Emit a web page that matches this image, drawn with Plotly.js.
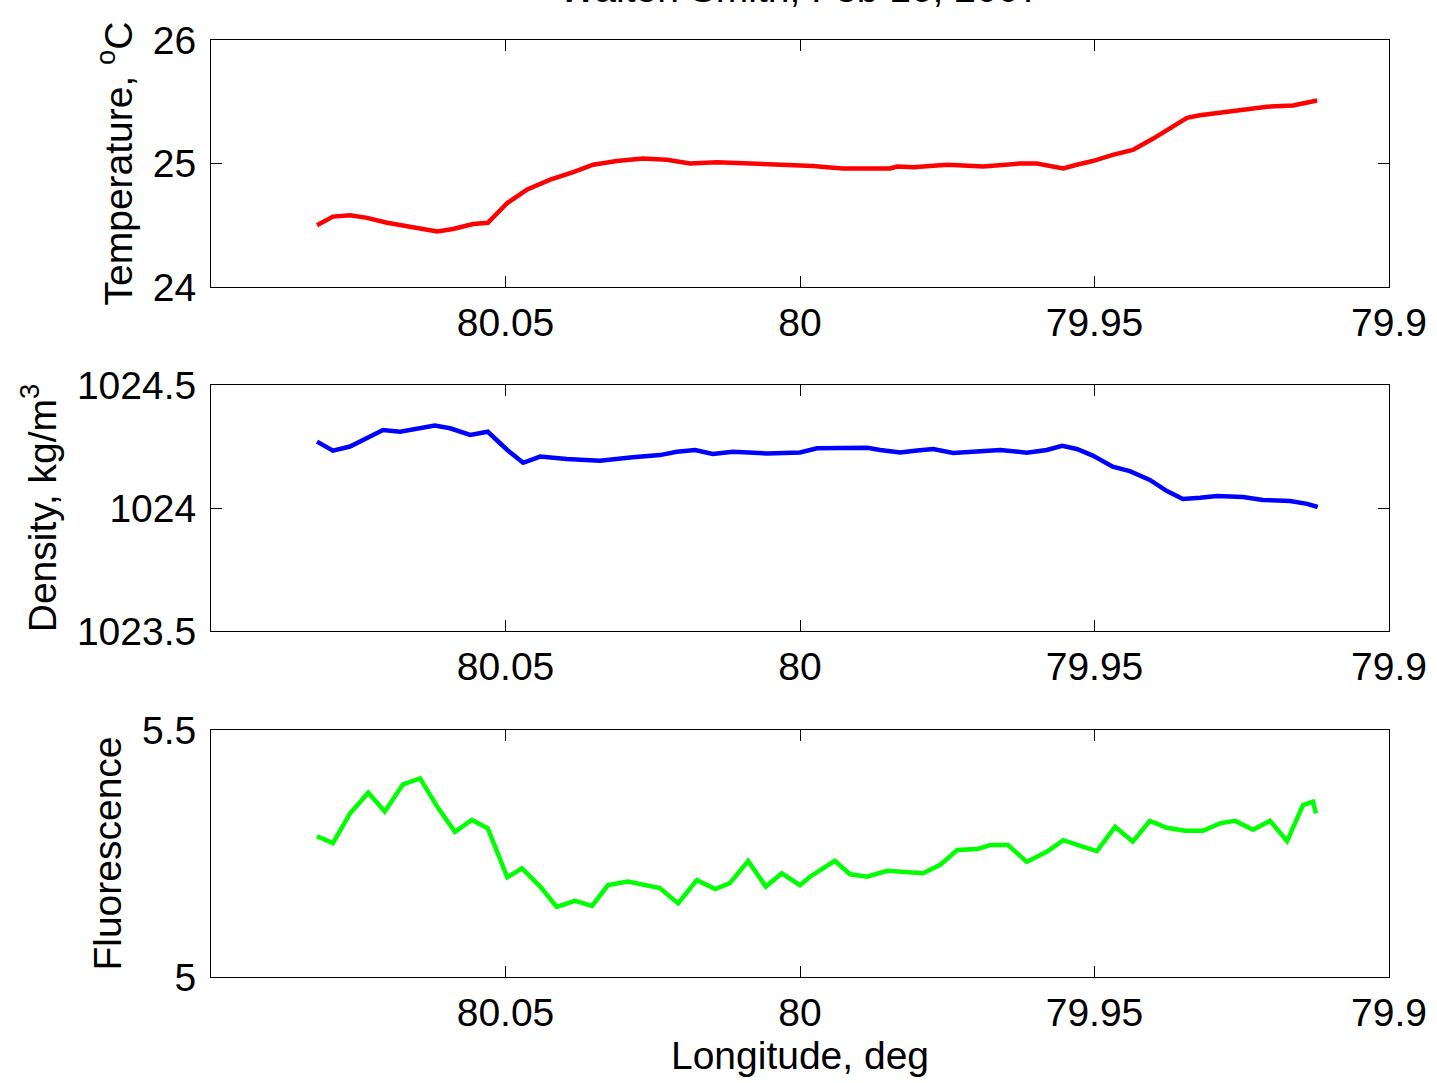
<!DOCTYPE html>
<html>
<head>
<meta charset="utf-8">
<script src="https://cdn.plot.ly/plotly-3.0.1.min.js"></script>
<style>html,body{margin:0;padding:0;background:#fff;}#chart{width:1437px;height:1083px;}</style>
</head>
<body>
<div id="chart"></div>
<script>
// Temperature, degC
const tempLon = [80.0820,80.0793,80.0764,80.0735,80.0701,80.0674,80.0645,80.0616,80.0589,80.0555,80.0530,80.0497,80.0463,80.0424,80.0385,80.0351,80.0311,80.0267,80.0226,80.0187,80.0141,80.0085,80.0000,79.9978,79.9954,79.9927,79.9847,79.9835,79.9808,79.9750,79.9689,79.9660,79.9626,79.9598,79.9576,79.9553,79.9530,79.9503,79.9469,79.9435,79.9401,79.9372,79.9343,79.9321,79.9275,79.9207,79.9163,79.9139,79.9122];
const tempVal = [24.50,24.57,24.58,24.56,24.52,24.50,24.47,24.45,24.47,24.51,24.52,24.68,24.79,24.87,24.93,24.99,25.02,25.04,25.03,25.00,25.01,25.00,24.99,24.98,24.97,24.96,24.96,24.975,24.97,24.99,24.975,24.99,25.00,25.00,24.98,24.96,24.99,25.02,25.07,25.11,25.20,25.28,25.37,25.39,25.42,25.46,25.47,25.49,25.51];

// Density, kg/m^3
const densLon = [80.0820,80.0793,80.0764,80.0735,80.0708,80.0679,80.0650,80.0620,80.0594,80.0560,80.0530,80.0497,80.0470,80.0441,80.0396,80.0340,80.0284,80.0238,80.0209,80.0178,80.0148,80.0114,80.0056,80.0000,79.9971,79.9927,79.9886,79.9864,79.9830,79.9801,79.9774,79.9740,79.9694,79.9660,79.9615,79.9581,79.9555,79.9530,79.9503,79.9469,79.9440,79.9406,79.9377,79.9350,79.9321,79.9292,79.9248,79.9214,79.9168,79.9139,79.9121];
const densVal = [1024.270,1024.233,1024.250,1024.283,1024.317,1024.310,1024.324,1024.335,1024.324,1024.297,1024.310,1024.236,1024.184,1024.209,1024.199,1024.192,1024.206,1024.215,1024.229,1024.236,1024.220,1024.229,1024.222,1024.226,1024.243,1024.243,1024.245,1024.236,1024.226,1024.234,1024.240,1024.224,1024.229,1024.236,1024.225,1024.236,1024.253,1024.240,1024.213,1024.168,1024.150,1024.114,1024.069,1024.037,1024.042,1024.049,1024.045,1024.033,1024.028,1024.017,1024.004];

// Fluorescence
const fluoLon = [80.0820,80.0793,80.0764,80.0733,80.0705,80.0674,80.0645,80.0616,80.0586,80.0557,80.0530,80.0497,80.0472,80.0441,80.0413,80.0382,80.0353,80.0326,80.0292,80.0238,80.0207,80.0175,80.0144,80.0119,80.0088,80.0058,80.0031,80.0000,79.9983,79.9966,79.9941,79.9915,79.9886,79.9852,79.9791,79.9762,79.9733,79.9699,79.9677,79.9647,79.9615,79.9579,79.9553,79.9520,79.9496,79.9465,79.9435,79.9406,79.9377,79.9346,79.9316,79.9287,79.9261,79.9231,79.9202,79.9173,79.9146,79.9129,79.9124];
const fluoVal = [5.285,5.271,5.331,5.373,5.335,5.390,5.402,5.345,5.294,5.318,5.301,5.202,5.220,5.183,5.142,5.154,5.144,5.186,5.193,5.180,5.149,5.196,5.178,5.190,5.235,5.183,5.210,5.186,5.203,5.217,5.235,5.208,5.203,5.215,5.210,5.227,5.257,5.259,5.267,5.267,5.233,5.255,5.277,5.264,5.255,5.304,5.274,5.316,5.302,5.296,5.296,5.311,5.316,5.298,5.316,5.275,5.348,5.355,5.331];

const xTickVals = [80.05, 80, 79.95, 79.9];
const xTickText = ['80.05', '80', '79.95', '79.9'];
const tempTicks = [24, 25, 26];
const densTicks = [1023.5, 1024, 1024.5];
const densTickText = ['1023.5', '1024', '1024.5'];
const fluoTicks = [5, 5.5];
const fluoTickText = ['5', '5.5'];

const FONT = 'Liberation Sans, Arial, Helvetica, sans-serif';
const FS = 39;
const traces = [
  {x: tempLon, y: tempVal, xaxis: 'x', yaxis: 'y', mode: 'lines', line: {color: '#ff0000', width: 4.5}, showlegend: false},
  {x: densLon, y: densVal, xaxis: 'x2', yaxis: 'y2', mode: 'lines', line: {color: '#0000ff', width: 4.5}, showlegend: false},
  {x: fluoLon, y: fluoVal, xaxis: 'x3', yaxis: 'y3', mode: 'lines', line: {color: '#00ff00', width: 4.5}, showlegend: false}
];

function xa(anchor, title) {
  const a = {
    anchor: anchor, domain: [0, 1], range: [80.1, 79.9], autorange: false,
    tickmode: 'array', tickvals: xTickVals, ticktext: xTickText,
    ticks: 'inside', ticklen: 11, tickwidth: 1, tickcolor: '#000',
    showline: true, linecolor: '#000', linewidth: 1, mirror: 'ticks',
    showgrid: false, zeroline: false, ticklabelstandoff: 1,
    tickfont: {family: FONT, size: FS, color: '#000'}
  };
  if (title) a.title = {text: title, font: {family: FONT, size: FS, color: '#000'}, standoff: 0};
  return a;
}
function ya(anchor, domain, range, vals, text, title) {
  return {
    anchor: anchor, domain: domain, range: range, autorange: false,
    tickmode: 'array', tickvals: vals, ticktext: text,
    ticks: 'inside', ticklen: 11, tickwidth: 1, tickcolor: '#000',
    showline: true, linecolor: '#000', linewidth: 1, mirror: 'ticks',
    showgrid: false, zeroline: false, ticklabelstandoff: 6,
    tickfont: {family: FONT, size: FS, color: '#000'},
    title: {text: title, font: {family: FONT, size: FS, color: '#000'}, standoff: 8}
  };
}

const layout = {
  width: 1437, height: 1083,
  margin: {l: 211, r: 48, t: 40, b: 106},
  paper_bgcolor: '#fff', plot_bgcolor: '#fff',
  font: {family: FONT, color: '#000', size: FS},
  xaxis: xa('y', null),
  xaxis2: xa('y2', null),
  xaxis3: xa('y3', 'Longitude, deg'),
  yaxis: ya('x', [0.73639, 1], [24, 26], tempTicks, ['24', '25', '26'], 'Temperature, <sup>o</sup>C'),
  yaxis2: ya('x2', [0.36926, 0.63180], [1023.5, 1024.5], densTicks, densTickText, 'Density, kg/m<sup>3</sup>'),
  yaxis3: ya('x3', [0, 0.26361], [5, 5.5], fluoTicks, fluoTickText, 'Fluorescence'),
  annotations: [{
    text: 'Walton Smith, Feb 16, 2007', xref: 'paper', yref: 'paper', x: 0.5, y: 1 + 52 / 937,
    xanchor: 'center', yanchor: 'middle', showarrow: false,
    font: {family: FONT, size: FS, color: '#000'}
  }],
  showlegend: false
};

Plotly.newPlot('chart', traces, layout, {displayModeBar: false, staticPlot: true});
</script>
</body>
</html>
